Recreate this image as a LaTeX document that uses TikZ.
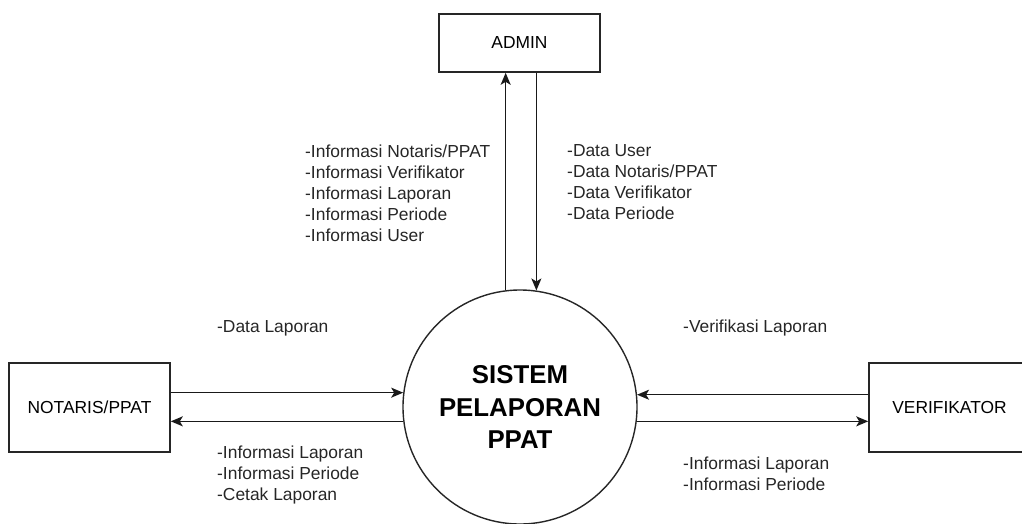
\documentclass[tikz,border=0pt]{standalone}
\usepackage{fontspec}
\setmainfont{Liberation Sans}
\usetikzlibrary{arrows.meta,positioning,calc}
\tikzstyle{entity} = [rectangle, draw=black!85, line width=1.6pt, minimum width=161pt, text centered, font=\fontsize{17.4}{21}\selectfont]
\tikzstyle{proses} = [circle, draw=black!85, line width=1.4pt, minimum size=234pt, inner sep=0pt, align=center, font=\fontsize{25.8}{32.5}\selectfont\bfseries]
\tikzstyle{flowlabel} = [inner sep=0pt, align=left, font=\fontsize{17.4}{21}\selectfont, text=black!85]
\tikzstyle{arrow} = [line width=1.5pt, draw=black!90, -{Stealth[length=12pt,width=10pt,inset=3pt]}]

\begin{document}
\begin{tikzpicture}[x=1pt, y=-1pt]
\path[use as bounding box, clip] (0,0) rectangle (1022,523);

\node (sys) [proses] at (520,407) {SISTEM\\PELAPORAN\\PPAT};
\node (admin) [entity, minimum height=58pt] at (519.5,43) {ADMIN};
\node (notaris) [entity, minimum height=89pt] at (89.5,407.5) {NOTARIS/PPAT};
\node (verif) [entity, minimum height=89pt] at (949.5,407.5) {VERIFIKATOR};

% admin
\draw [arrow] (sys.97.4) -- (sys.97.4 |- admin.south);
\draw [arrow] (sys.82.6 |- admin.south) -- (sys.82.6);
\node (infoadmin) [flowlabel, anchor=west] at (305,193.5) {-Informasi Notaris/PPAT\\-Informasi Verifikator\\-Informasi Laporan\\-Informasi Periode\\-Informasi User};
\node (dataadmin) [flowlabel, anchor=west] at (567,182.5) {-Data User\\-Data Notaris/PPAT\\-Data Verifikator\\-Data Periode};

% notaris
\draw [arrow] (notaris.east |- sys.173.1) -- (sys.173.1);
\draw [arrow] (sys.187.4) -- (notaris.east |- sys.187.4);
\node (datanotaris) [flowlabel, anchor=west] at (217,328) {-Data Laporan};
\node (infonotaris) [flowlabel, anchor=west] at (217,474.5) {-Informasi Laporan\\-Informasi Periode\\-Cetak Laporan};

% verifikator
\draw [arrow] (verif.west |- sys.6.9) -- (sys.6.9);
\draw [arrow] (sys.-7.4) -- (verif.west |- sys.-7.4);
\node (dataverif) [flowlabel, anchor=west] at (683,328) {-Verifikasi Laporan};
\node (infoverif) [flowlabel, anchor=west] at (683,474) {-Informasi Laporan\\-Informasi Periode};

\end{tikzpicture}
\end{document}
